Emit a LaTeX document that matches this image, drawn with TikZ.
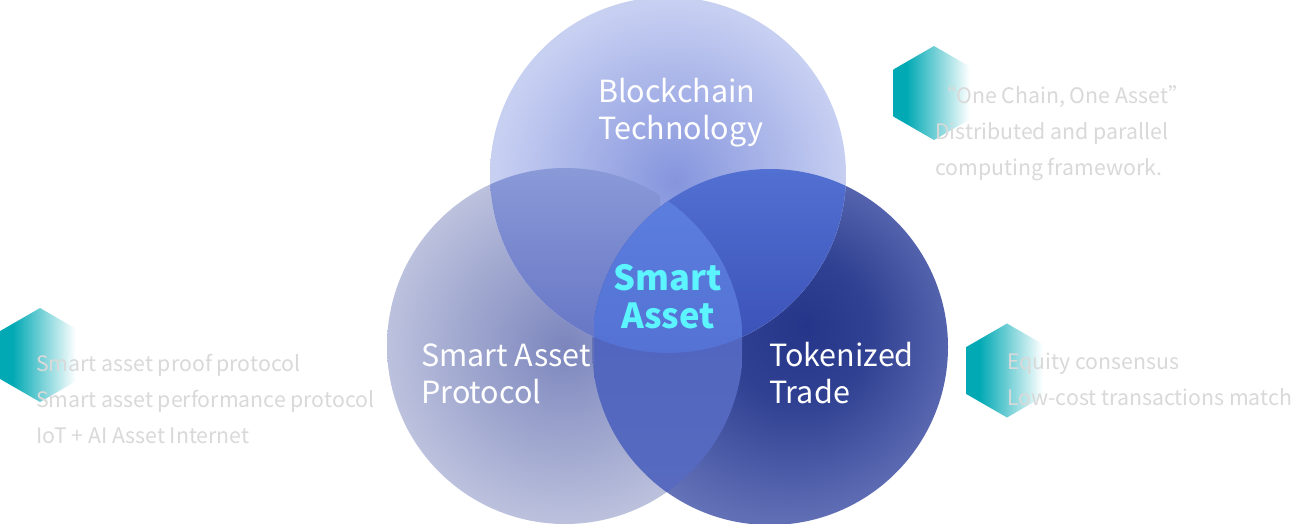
\documentclass[tikz,border=0pt]{standalone}
\usepackage{fontspec}
\setmainfont{Noto Sans CJK SC}
\definecolor{tIn}{HTML}{8595DD}
\definecolor{tOut}{HTML}{C8D0F2}
\definecolor{lIn}{HTML}{7C86BD}
\definecolor{lOut}{HTML}{BCC1DD}
\definecolor{rIn}{HTML}{25368A}
\definecolor{rOut}{HTML}{6C7ABE}
\definecolor{ltTop}{HTML}{8A99D7}
\definecolor{ltBot}{HTML}{6474C4}
\definecolor{rtTop}{HTML}{5270D2}
\definecolor{rtBot}{HTML}{3A50B6}
\definecolor{lrTop}{HTML}{4D62BE}
\definecolor{lrBot}{HTML}{586BC0}
\definecolor{allTop}{HTML}{5C7EDF}
\definecolor{allBot}{HTML}{5472D3}
\definecolor{hexteal}{HTML}{00A9B4}
\definecolor{softgray}{HTML}{D9D9D9}
\definecolor{smartcyan}{HTML}{5CF4FF}
\pgfdeclareradialshading{shT}{\pgfpoint{1bp}{-1bp}}{color(0bp)=(tIn); color(25bp)=(tOut); color(50bp)=(tOut)}
\pgfdeclareradialshading{shL}{\pgfpoint{0bp}{0bp}}{color(0bp)=(lIn); color(25bp)=(lOut); color(50bp)=(lOut)}
\pgfdeclareradialshading{shR}{\pgfpoint{5bp}{3bp}}{color(0bp)=(rIn); color(10bp)=(rIn!85!rOut); color(30bp)=(rOut); color(50bp)=(rOut)}
\pgfdeclarehorizontalshading{hexsh}{100bp}{color(0bp)=(hexteal); color(33bp)=(hexteal); color(72bp)=(white); color(100bp)=(white)}
\begin{document}
\begin{tikzpicture}[x=1pt,y=-1pt,
  circlabel/.style={anchor=base west,inner sep=0pt,align=left,text=white,font=\fontsize{30.5}{36.5}\selectfont},
  sidetext/.style={anchor=base west,inner sep=0pt,align=left,text=softgray,font=\fontsize{21.3}{36}\selectfont},
  centerlabel/.style={anchor=base,inner sep=0pt,align=center,text=smartcyan,font=\bfseries\fontsize{34.5}{38}\selectfont},
  hexfill/.style={shading=hexsh}]
\useasboundingbox (0,0) rectangle (1301,523);
\fill[white] (0,0) rectangle (1301,523);
\coordinate (cT) at (668,175);
\coordinate (cL) at (565,346);
\coordinate (cR) at (770,347);
\def\rad{178pt}
% base circles
\shade[shading=shL] (cL) circle (\rad);
\shade[shading=shR] (cR) circle (\rad);
\shade[shading=shT] (cT) circle (\rad);
% L and T
\begin{scope}
  \clip (cT) circle (\rad);
  \clip (cL) circle (\rad);
  \shade[top color=ltTop,bottom color=ltBot] (480,168) rectangle (660,353);
\end{scope}
% R and T
\begin{scope}
  \clip (cT) circle (\rad);
  \clip (cR) circle (\rad);
  \shade[top color=rtTop,bottom color=rtBot] (594,169) rectangle (846,353);
\end{scope}
% L and R
\begin{scope}
  \clip (cL) circle (\rad);
  \clip (cR) circle (\rad);
  \shade[top color=lrTop,bottom color=lrBot] (594,195) rectangle (742,520);
\end{scope}
% all three
\begin{scope}
  \clip (cL) circle (\rad);
  \clip (cR) circle (\rad);
  \clip (cT) circle (\rad);
  \shade[top color=allTop,bottom color=allBot] (594,195) rectangle (742,355);
\end{scope}
% hexagons
\coordinate (h1) at (934,93);
\coordinate (h2) at (40,355);
\coordinate (h3) at (1007,370.5);
\foreach \h in {h1,h2,h3}{
  \path (\h) ++(0,-47) coordinate (v1) ++(-40.7,23.5) coordinate (v2) ++(0,47) coordinate (v3)
        ++(40.7,23.5) coordinate (v4) ++(40.7,-23.5) coordinate (v5) ++(0,-47) coordinate (v6);
  \shade[hexfill] (v1) -- (v2) -- (v3) -- (v4) -- (v5) -- (v6) -- cycle;
}
% labels (anchor = baseline of the last line)
\node[circlabel] (lblT) at (598,139) {Blockchain\\Technology};
\node[circlabel] (lblL) at (421,403) {Smart Asset\\Protocol};
\node[circlabel] (lblR) at (769,403) {Tokenized\\Trade};
\node[centerlabel] (lblC) at (668,328) {Smart\\Asset};
\node[sidetext] (txtT) at (935,175) {“One Chain, One Asset”\\Distributed and parallel\\computing framework.};
\node[sidetext] (txtL) at (36,443) {Smart asset proof protocol\\Smart asset performance protocol\\IoT + AI Asset Internet};
\node[sidetext] (txtR) at (1007,405) {Equity consensus\\Low-cost transactions match};
\end{tikzpicture}
\end{document}
